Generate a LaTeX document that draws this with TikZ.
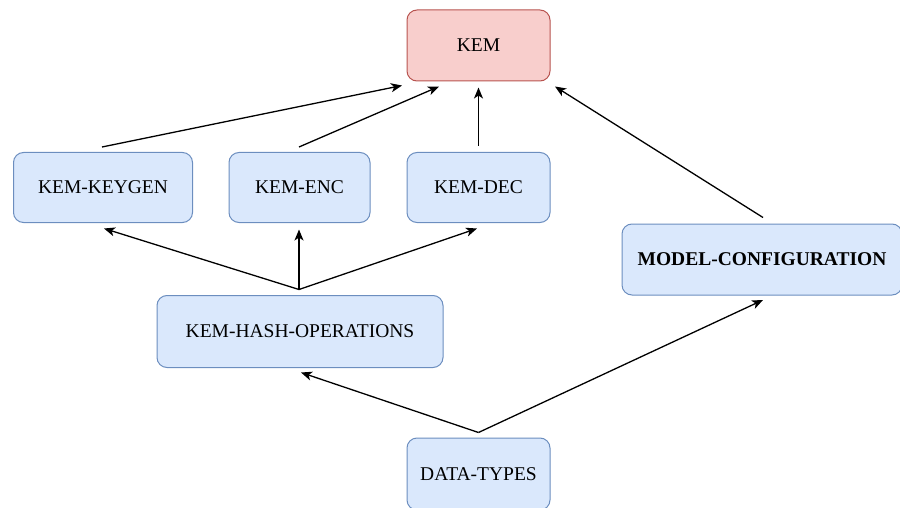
\documentclass[tikz,border=0pt]{standalone}
\usepackage{fontspec}
\setmainfont{Liberation Serif}
\usetikzlibrary{arrows.meta}
\definecolor{bluefill}{HTML}{DAE8FC}
\definecolor{blueline}{HTML}{6C8EBF}
\definecolor{redfill}{HTML}{F8CECC}
\definecolor{redline}{HTML}{B85450}
\tikzset{
  box/.style={rectangle, rounded corners=10pt, draw=blueline, fill=bluefill, line width=1pt,
    font=\fontsize{19.5}{23}\selectfont, inner sep=0pt, text=black},
  kembox/.style={box, draw=redline, fill=redfill},
  arr/.style={draw=black, line width=1.3pt, -{Stealth[length=11pt,width=9pt,inset=3pt]}}
}
\begin{document}
\begin{tikzpicture}[x=1pt,y=-1pt]
\useasboundingbox (0,0) rectangle (900,508);
\clip (0,0) rectangle (900,508);
\node[kembox, minimum width=143pt, minimum height=71pt] (kem) at (478.5,45.5) {KEM};
\node[box, minimum width=179pt, minimum height=70pt] (keygen) at (103,187.5) {KEM-KEYGEN};
\node[box, minimum width=141pt, minimum height=70pt] (enc) at (299.5,187.5) {KEM-ENC};
\node[box, minimum width=143pt, minimum height=70pt] (dec) at (478.5,187.5) {KEM-DEC};
\node[box, minimum width=280pt, minimum height=71pt, font=\fontsize{19.5}{23}\selectfont\bfseries] (model) at (762,259.5) {MODEL-CONFIGURATION};
\node[box, minimum width=286pt, minimum height=72pt] (hash) at (300,331.5) {KEM-HASH-OPERATIONS};
\node[box, minimum width=143pt, minimum height=72pt] (data) at (478.5,474) {DATA-TYPES};

\draw[arr] ([xshift=-1pt,yshift=5pt]keygen.north) -- ([xshift=-76.5pt,yshift=-4pt]kem.south);
\draw[arr] ([xshift=-0.5pt,yshift=5pt]enc.north) -- ([xshift=-39.5pt,yshift=-5pt]kem.south);
\draw[arr] ([yshift=6pt]dec.north) -- ([yshift=-6pt]kem.south);
\draw[arr] ([xshift=1pt,yshift=6pt]model.north) -- ([xshift=76.5pt,yshift=-5pt]kem.south);

\draw[arr] ([xshift=-1pt,yshift=5.5pt]hash.north) -- ([xshift=1pt,yshift=-5.5pt]keygen.south);
\draw[arr] ([xshift=-1pt,yshift=5.5pt]hash.north) -- ([xshift=-0.5pt,yshift=-6.5pt]enc.south);
\draw[arr] ([xshift=-1pt,yshift=5.5pt]hash.north) -- ([xshift=-1.5pt,yshift=-5.5pt]dec.south);

\draw[arr] ([yshift=5pt]data.north) -- ([xshift=1pt,yshift=-4.5pt]hash.south);
\draw[arr] ([yshift=5pt]data.north) -- ([xshift=1pt,yshift=-4.5pt]model.south);
\end{tikzpicture}
\end{document}
